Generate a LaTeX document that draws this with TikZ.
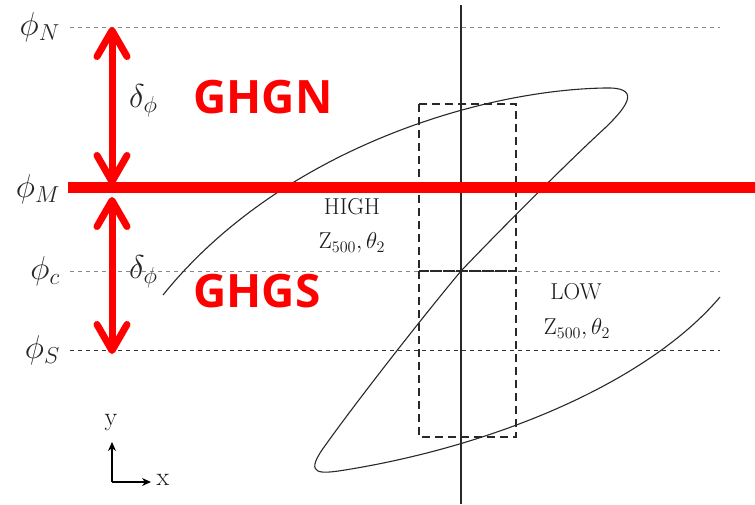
\RequirePackage{fix-cm}
\documentclass[tikz,border=0pt]{standalone}
\usepackage{fontspec}
\newfontfamily\ghfont{Open Sans}
\usetikzlibrary{arrows.meta,positioning}
\definecolor{ghred}{RGB}{255,0,0}
\definecolor{levelgray}{RGB}{135,135,135}
\definecolor{ink}{RGB}{40,40,40}

\begin{document}
\begin{tikzpicture}[x=1pt, y=-1pt,
  level/.style={dash pattern=on 4pt off 4pt, line width=0.9pt},
  philab/.style={anchor=east, inner sep=0pt, text=black!85, font=\fontsize{33}{40}\selectfont},
  deltalab/.style={anchor=west, inner sep=0pt, text=black!85, font=\fontsize{33}{40}\selectfont},
  regime/.style={inner sep=0pt, text=black!90, font=\fontsize{23}{28}\selectfont},
  ghlab/.style={anchor=west, inner sep=0pt, text=ghred, font=\ghfont\bfseries\fontsize{46}{50}\selectfont},
  spread/.style={draw=ghred, line width=7pt,
    {Straight Barb[length=26pt, width=30pt, round]}-{Straight Barb[length=26pt, width=30pt, round]}},
  regbox/.style={draw=ink, dash pattern=on 8pt off 5pt, line width=1.1pt},
  axis/.style={draw=black, line width=1.3pt, -{Stealth[length=9pt, width=8pt]}}]
  \useasboundingbox (0,0) rectangle (755,504);

  % levels of phi
  \node[philab] (phiN) at (60,27) {$\phi_N$};
  \node[philab] (phiM) at (60,189) {$\phi_M$};
  \node[philab] (phic) at (60,271) {$\phi_c$};
  \node[philab] (phiS) at (60,350) {$\phi_S$};
  \coordinate (Nl) at (70,27);  \coordinate (Nr) at (720,27);
  \coordinate (cl) at (70,271); \coordinate (cr) at (720,271);
  \coordinate (Sl) at (70,350); \coordinate (Sr) at (720,350);
  \draw[level, draw=levelgray] (Nl) -- (Nr);
  \draw[level, draw=levelgray] (cl) -- (cr);
  \draw[level, draw=black!80] (Sl) -- (Sr);

  % boxes round the origin
  \draw[regbox] (419,104) rectangle (516,271);
  \draw[regbox] (419,271) rectangle (516,437);
  \draw[ink, line width=1.5pt] (461,5) -- (461,504);

  % trajectory
  \draw[ink, line width=1.1pt] (163,295)
    .. controls (280,150) and (480,90) .. (605,88)
    .. controls (640,87) and (630,104) .. (605,128)
    .. controls (570,160) and (500,230) .. (461,271)
    .. controls (420,320) and (350,410) .. (322,450)
    .. controls (305,475) and (320,474) .. (345,470)
    .. controls (500,445) and (650,380) .. (720,297);

  % M level and spreads
  \coordinate (Ml) at (68,187); \coordinate (Mr) at (755,187);
  \draw[ghred, line width=11pt] (Ml) -- (Mr);
  \coordinate (aN) at (112,27);  \coordinate (aM1) at (112,185);
  \coordinate (aM2) at (112,197); \coordinate (aS) at (112,354);
  \draw[spread] (aN) -- (aM1);
  \draw[spread] (aM2) -- (aS);
  \node[deltalab] (dN) at (129,101) {$\delta_\phi$};
  \node[deltalab] (dS) at (129,272) {$\delta_\phi$};
  \node[ghlab] (ghgn) at (193,97) {GHGN};
  \node[ghlab] (ghgs) at (193,291) {GHGS};

  % regimes
  \node[regime] (high) at (352,207) {HIGH};
  \node[regime] (highv) at (352,243) {$\mathrm{Z}_{500},\theta_2$};
  \node[regime] (low) at (576,292) {LOW};
  \node[regime] (lowv) at (577,329) {$\mathrm{Z}_{500},\theta_2$};

  % axes
  \coordinate (o) at (112,482);
  \coordinate (ytip) at (112,442);
  \coordinate (xtip) at (151,482);
  \draw[axis] (o) -- (ytip);
  \draw[axis] (o) -- (xtip);
  \node[regime, font=\fontsize{26}{30}\selectfont] (ylab) at (111,423) {y};
  \node[regime, font=\fontsize{26}{30}\selectfont] (xlab) at (163,480) {x};
\end{tikzpicture}
\end{document}
